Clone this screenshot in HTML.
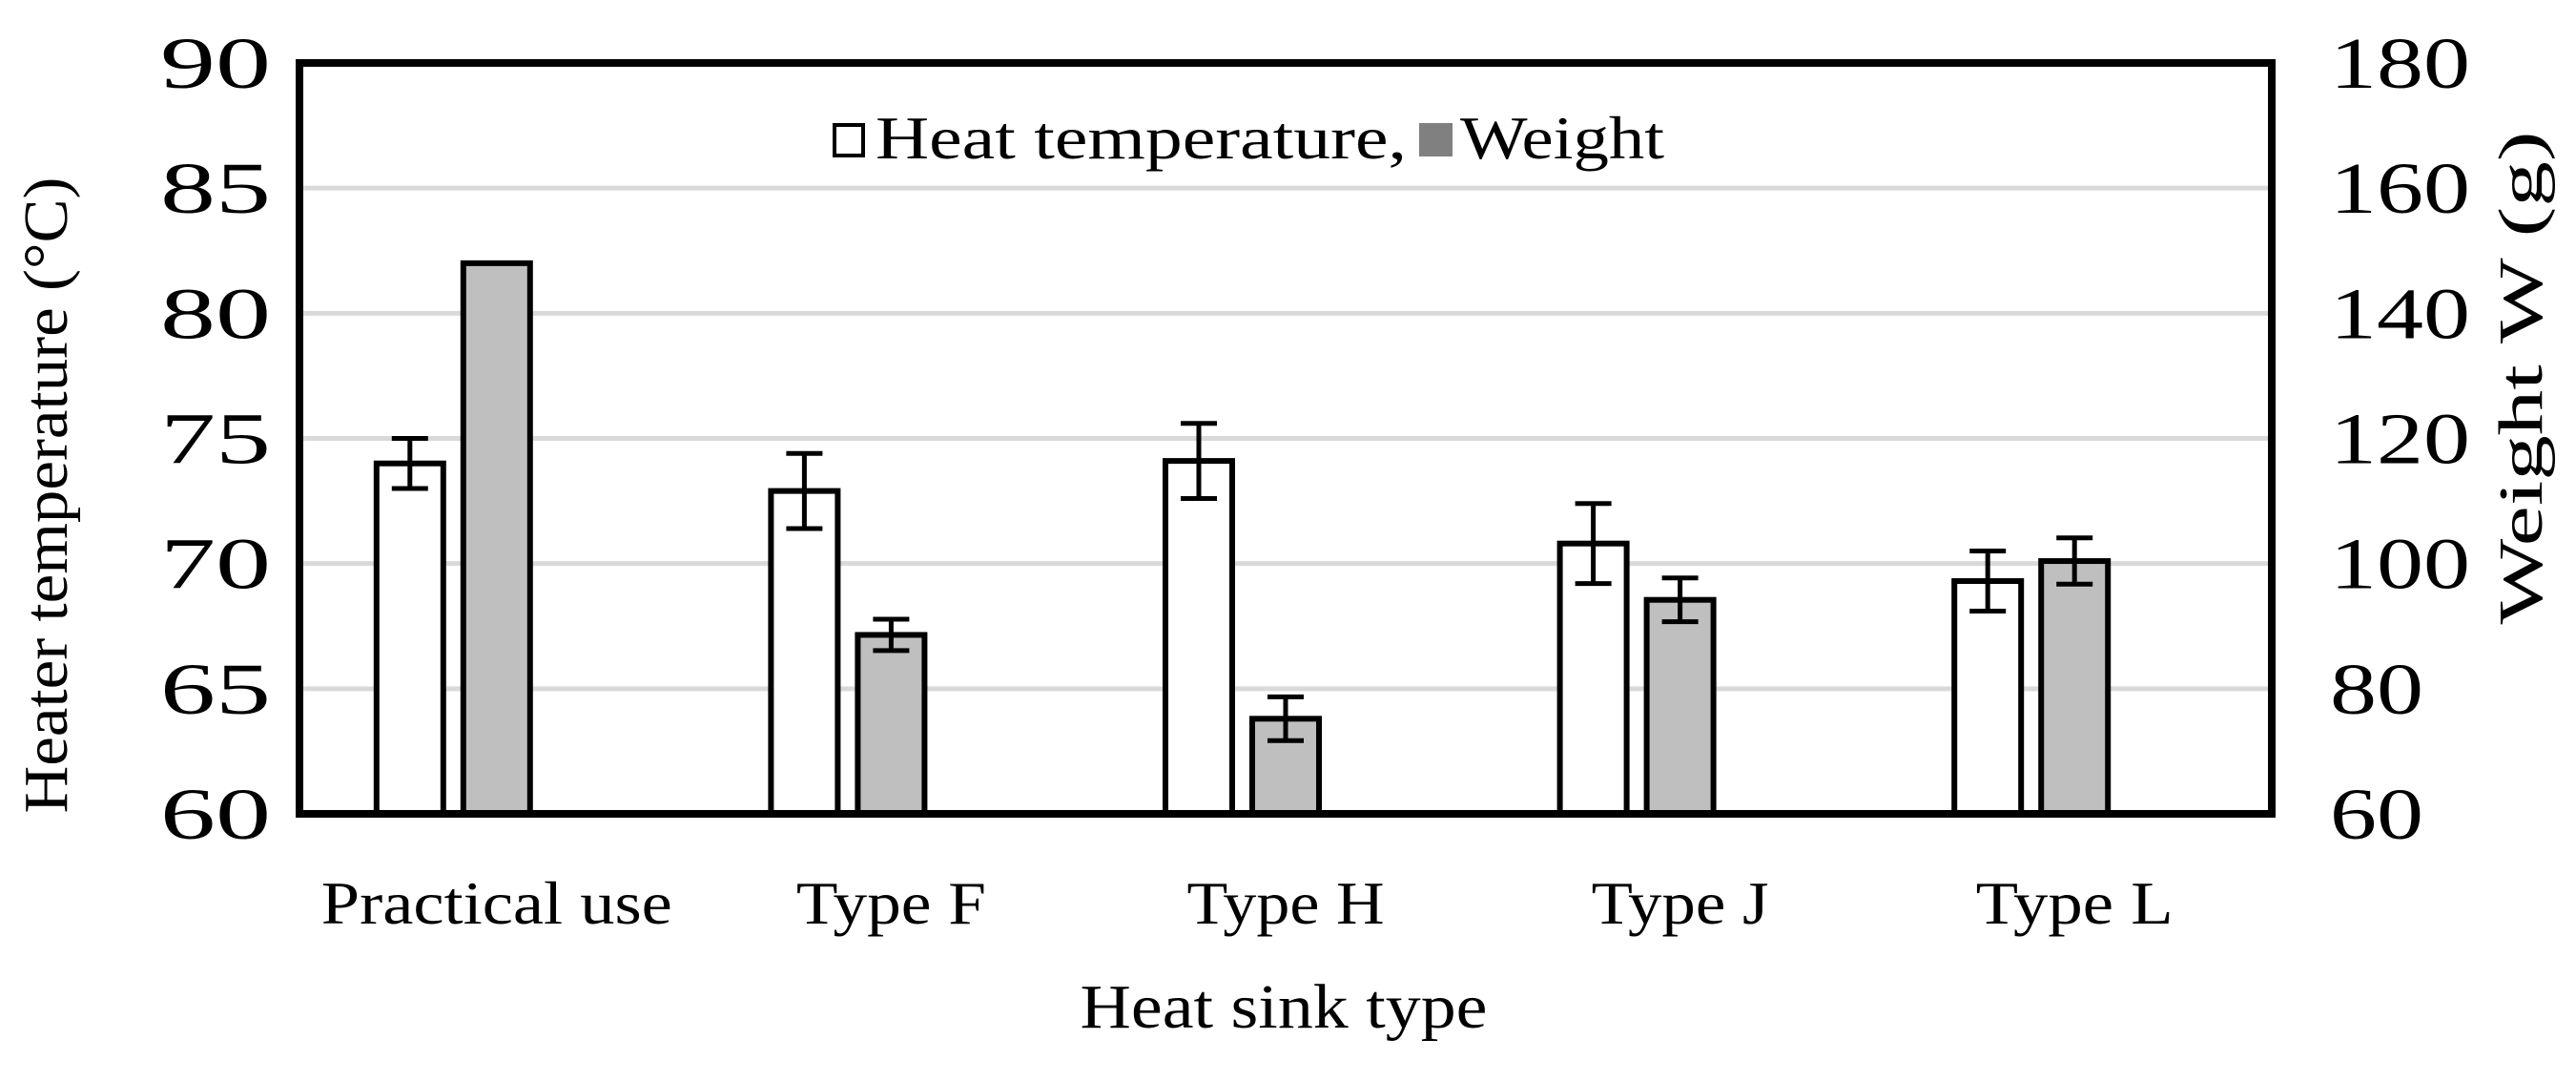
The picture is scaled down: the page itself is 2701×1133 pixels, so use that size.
<!DOCTYPE html>
<html><head><meta charset="utf-8"><style>
html,body{margin:0;padding:0;background:#fff}
svg text{font-family:"Liberation Serif",serif;fill:#000}
</style></head><body>
<svg id="chart" width="2701" height="1128" xmlns="http://www.w3.org/2000/svg"></svg>
<script>
const categories = ["Practical use","Type F","Type H","Type J","Type L"];
const tempValues = [74.0, 72.9, 74.1, 70.8, 69.3];
const tempErrors = [1.0, 1.5, 1.5, 1.6, 1.2];
const weightValues = [148, 88.6, 75.2, 94.2, 100.4];
const weightErrors = [0, 2.5, 3.5, 3.5, 3.7];
const leftTicks = [60,65,70,75,80,85,90];
const rightTicks = [60,80,100,120,140,160,180];

const svg = document.getElementById('chart');
const NS = 'http://www.w3.org/2000/svg';
const L = 314, R = 2382, T = 66, B = 853;
const yL = v => B - (v - 60) / 30 * (B - T);
const yR = v => B - (v - 60) / 120 * (B - T);
const catW = (R - L) / categories.length;
const xC = i => L + catW * (i + 0.5);
function mk(tag, attrs, parent) {
  const e = document.createElementNS(NS, tag);
  for (const k in attrs) e.setAttribute(k, attrs[k]);
  (parent || svg).appendChild(e);
  return e;
}
leftTicks.forEach(t => {
  if (t === 60 || t === 90) return;
  const g = mk('line', {x1: L, x2: R, y1: yL(t), y2: yL(t), stroke: '#d9d9d9', 'stroke-width': 5});
  
  
});
leftTicks.forEach(t => {
  const e = mk('text', {x: 284, y: yL(t) + 26, 'text-anchor': 'end', 'font-size': 76, textLength: 116, lengthAdjust: 'spacingAndGlyphs'});
  e.textContent = t;
  
  
});
rightTicks.forEach(t => {
  const w = String(t).length * 49;
  const e = mk('text', {x: 2443, y: yR(t) + 26, 'text-anchor': 'start', 'font-size': 76, textLength: w, lengthAdjust: 'spacingAndGlyphs'});
  e.textContent = t;
  
  
});
function errbar(x, y1, y2) {
  const g = mk('g', {stroke: '#000', 'stroke-width': 5});
  
  
  mk('line', {x1: x, x2: x, y1: y1, y2: y2}, g);
  mk('line', {x1: x - 19, x2: x + 19, y1: y1, y2: y1}, g);
  mk('line', {x1: x - 19, x2: x + 19, y1: y2, y2: y2}, g);
}
const bw = 70;
const labelW = [368, 199, 207, 186, 207];
categories.forEach((c, i) => {
  const cw = xC(i) - 91, cg = xC(i);
  const yt = yL(tempValues[i]);
  const b1 = mk('rect', {x: cw - bw / 2, y: yt, width: bw, height: B - yt, fill: '#fff', stroke: '#000', 'stroke-width': 6});
  
  
  const yw = yR(weightValues[i]);
  const b2 = mk('rect', {x: cg - bw / 2, y: yw, width: bw, height: B - yw, fill: '#bfbfbf', stroke: '#000', 'stroke-width': 6});
  
  
  errbar(cw, yL(tempValues[i] + tempErrors[i]), yL(tempValues[i] - tempErrors[i]));
  if (weightErrors[i] > 0) errbar(cg, yR(weightValues[i] + weightErrors[i]), yR(weightValues[i] - weightErrors[i]));
  const t = mk('text', {x: xC(i), y: 968, 'text-anchor': 'middle', 'font-size': 64, textLength: labelW[i], lengthAdjust: 'spacingAndGlyphs'});
  t.textContent = c;
  
  
});
const fr = mk('rect', {x: L, y: T, width: R - L, height: B - T, fill: 'none', stroke: '#000', 'stroke-width': 8});


const lg = mk('g', {});


mk('rect', {x: 875, y: 131, width: 30, height: 32, fill: '#fff', stroke: '#000', 'stroke-width': 4}, lg);
const lt1 = mk('text', {x: 918, y: 166, 'font-size': 64, textLength: 557, lengthAdjust: 'spacingAndGlyphs'}, lg); lt1.textContent = 'Heat temperature,';
mk('rect', {x: 1488, y: 129, width: 35, height: 35, fill: '#808080'}, lg);
const lt2 = mk('text', {x: 1531, y: 166, 'font-size': 64, textLength: 214, lengthAdjust: 'spacingAndGlyphs'}, lg); lt2.textContent = 'Weight';
const xt = mk('text', {x: 1346, y: 1077, 'text-anchor': 'middle', 'font-size': 66, textLength: 427, lengthAdjust: 'spacingAndGlyphs'});
xt.textContent = 'Heat sink type';


const ylt = mk('text', {x: 0, y: 0, 'text-anchor': 'middle', 'font-size': 66, textLength: 667, lengthAdjust: 'spacingAndGlyphs', transform: 'translate(70,519) rotate(-90)'});
ylt.textContent = 'Heater temperature (°C)';


const yrt = mk('text', {x: 0, y: 0, 'text-anchor': 'middle', 'font-size': 66, textLength: 517, lengthAdjust: 'spacingAndGlyphs', transform: 'translate(2665,396) rotate(-90)'});
yrt.textContent = 'Weight W (g)';


</script>
</body></html>
